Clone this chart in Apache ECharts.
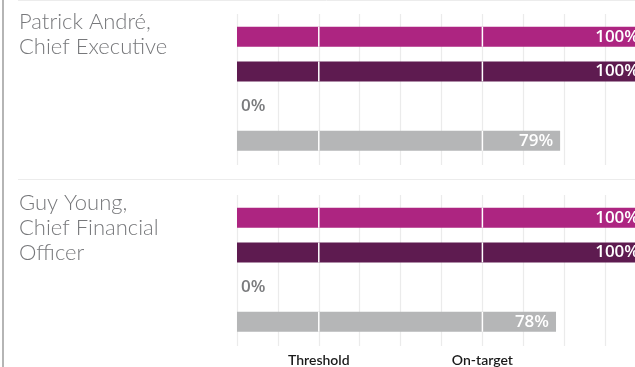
<!DOCTYPE html>
<html>
<head>
<meta charset="utf-8">
<script src="https://cdn.jsdelivr.net/npm/echarts@6/dist/echarts.min.js"></script>
<style>
  html, body { margin: 0; padding: 0; background: #fff; }
  #chart { width: 635px; height: 367px; }
</style>
</head>
<body>
<div id="chart"></div>
<script>
// data
const rows = ['Bonus 1', 'Bonus 2', 'Bonus 3', 'Bonus 4']
const patrickValues = [100, 100, 0, 79]
const guyValues = [100, 100, 0, 78]
const people = [
  ['Patrick André,', 'Chief Executive'],
  ['Guy Young,', 'Chief Financial', 'Officer']
]
const markerValues = [20, 60]
const markerLabels = ['Threshold', 'On-target']

const rowColors = ['#ad2581', '#5e1b50', '#b5b6b7', '#b5b6b7']
const textGrey = '#77787b'

const chart = echarts.init(document.getElementById('chart'))

const barData = (values) =>
  values.map((v, i) => ({
    value: v,
    itemStyle: { color: rowColors[i] },
    label: v === 0
      ? { position: 'right', distance: 4, color: '#7a7b7d' }
      : { position: 'insideRight', distance: 7, color: '#fff' }
  }))

// white tick marks crossing bars at threshold / on-target
const markerData = (values) => {
  const out = []
  values.forEach((v, i) => {
    markerValues.forEach((m) => {
      if (v > m) out.push([m, i])
    })
  })
  return out
}

const sections = [patrickValues, guyValues]
const barTops = [19.35, 200.35]
const lineTops = [14, 195]

const grids = []
const xAxes = []
const yAxes = []
const series = []

sections.forEach((values, s) => {
  // grid for the bars, runs past the right edge like the original
  grids.push({ left: 237, right: -11, top: barTops[s], height: 138.8, outerBoundsMode: 'none', containLabel: false })
  // grid for the vertical grid lines
  grids.push({ left: 237, right: -11, top: lineTops[s], height: 151, outerBoundsMode: 'none', containLabel: false })

  const gb = s * 2
  const gl = s * 2 + 1

  xAxes.push({
    gridIndex: gb, type: 'value', min: 0, max: 100, interval: 10,
    axisLine: { show: false }, axisTick: { show: false },
    axisLabel: { show: false }, splitLine: { show: false }
  })
  xAxes.push({
    gridIndex: gl, type: 'value', min: 0, max: 100, interval: 10,
    axisLine: { show: false }, axisTick: { show: false },
    splitLine: { show: true, lineStyle: { color: '#ebebeb', width: 1.2 } },
    axisLabel: {
      show: s === 1,
      margin: 7,
      color: '#1a1a1a',
      fontFamily: 'Lato',
      fontWeight: 600,
      fontSize: 14,
      formatter: (v) => {
        const k = markerValues.indexOf(v)
        return k >= 0 ? markerLabels[k] : ''
      }
    }
  })
  yAxes.push({
    gridIndex: gb, type: 'category', data: rows, inverse: true, show: false
  })
  yAxes.push({
    gridIndex: gl, type: 'category', data: rows, show: false
  })

  series.push({
    type: 'bar',
    xAxisIndex: gb,
    yAxisIndex: gb,
    barWidth: 20,
    z: 2,
    data: barData(values),
    label: {
      show: true,
      fontFamily: 'Open Sans',
      fontSize: 17,
      fontWeight: 600,
      formatter: (p) => p.value + '%'
    }
  })
  series.push({
    type: 'custom',
    xAxisIndex: gb,
    yAxisIndex: gb,
    z: 3,
    silent: true,
    data: markerData(values),
    renderItem: (params, api) => {
      const p = api.coord([api.value(0), api.value(1)])
      return {
        type: 'line',
        shape: { x1: p[0], y1: p[1] - 10, x2: p[0], y2: p[1] + 10 },
        style: { stroke: '#fff', lineWidth: 1.5 }
      }
    }
  })
})

const graphic = [
  { type: 'line', shape: { x1: 3, y1: 0, x2: 3, y2: 367 }, style: { stroke: '#9d9d9d', lineWidth: 1.5 } },
  { type: 'line', shape: { x1: 18, y1: 0.5, x2: 635, y2: 0.5 }, style: { stroke: '#ececec', lineWidth: 1 } },
  { type: 'line', shape: { x1: 18, y1: 179.5, x2: 635, y2: 179.5 }, style: { stroke: '#ececec', lineWidth: 1.2 } }
]
const nameTops = [9, 190]
people.forEach((lines, s) => {
  graphic.push({
    type: 'text',
    left: 19,
    top: nameTops[s],
    style: {
      text: lines.join('\n'),
      fill: textGrey,
      font: '300 22px Lato',
      lineHeight: 25
    }
  })
})

chart.setOption({
  animation: false,
  grid: grids,
  xAxis: xAxes,
  yAxis: yAxes,
  series: series,
  graphic: graphic
})
</script>
</body>
</html>
